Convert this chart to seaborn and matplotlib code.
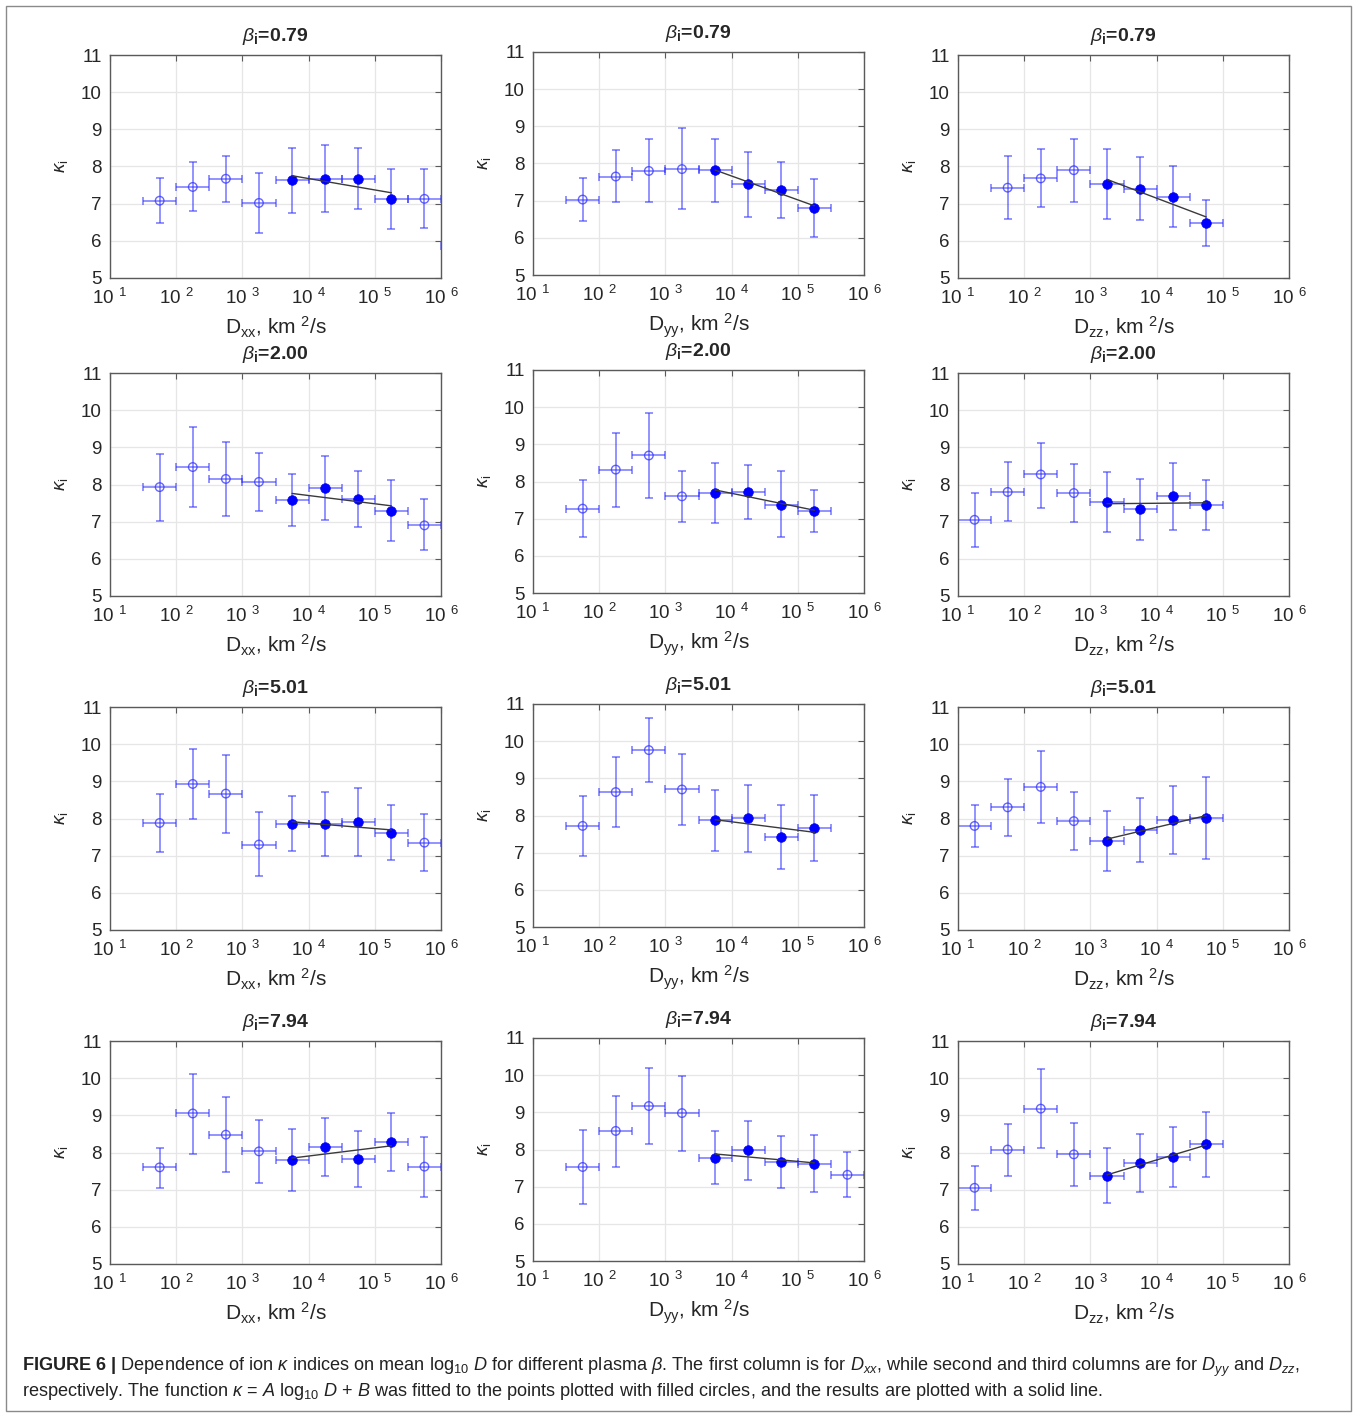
import numpy as np
import matplotlib
matplotlib.use('Agg')
import matplotlib.pyplot as plt
from matplotlib.patches import Rectangle
import seaborn as sns

sns.set_style('white')
plt.rcParams['font.family'] = ['Liberation Sans', 'DejaVu Sans']
plt.rcParams['mathtext.fontset'] = 'custom'
plt.rcParams['mathtext.rm'] = 'Liberation Sans'
plt.rcParams['mathtext.it'] = 'Liberation Sans:italic'
plt.rcParams['mathtext.bf'] = 'Liberation Sans:bold'

# ============================================================
# Data: bin centre (log10 D), kappa, lower/upper error
# ============================================================
BETAS = ['0.79', '2.00', '5.01', '7.94']
COMPONENTS = ['xx', 'yy', 'zz']
HALF_BIN = 0.25  # half width of a bin, decades
# fits use the filled points inside this range of log10 D
FIT_RANGE = {'xx': (3.75, 5.25), 'yy': (3.75, 5.25), 'zz': (3.25, 4.75)}

# --- D_xx ---
XX_079_LOGD = [1.75, 2.25, 2.75, 3.25, 3.75, 4.25, 4.75, 5.25, 5.75, 6.25]
XX_079_K = [7.08, 7.45, 7.67, 7.02, 7.63, 7.67, 7.67, 7.12, 7.13, 5.85]
XX_079_LO = [6.48, 6.80, 7.05, 6.22, 6.75, 6.77, 6.85, 6.33, 6.35, 5.20]
XX_079_HI = [7.68, 8.12, 8.28, 7.82, 8.50, 8.58, 8.50, 7.92, 7.92, 6.50]

XX_200_LOGD = [1.75, 2.25, 2.75, 3.25, 3.75, 4.25, 4.75, 5.25, 5.75]
XX_200_K = [7.93, 8.47, 8.15, 8.07, 7.57, 7.90, 7.60, 7.30, 6.90]
XX_200_LO = [7.03, 7.40, 7.14, 7.28, 6.87, 7.05, 6.85, 6.48, 6.23]
XX_200_HI = [8.82, 9.55, 9.15, 8.85, 8.28, 8.77, 8.37, 8.13, 7.60]

XX_501_LOGD = [1.75, 2.25, 2.75, 3.25, 3.75, 4.25, 4.75, 5.25, 5.75]
XX_501_K = [7.88, 8.93, 8.67, 7.30, 7.86, 7.85, 7.90, 7.60, 7.35]
XX_501_LO = [7.10, 8.00, 7.62, 6.45, 7.12, 7.00, 7.00, 6.88, 6.58]
XX_501_HI = [8.67, 9.87, 9.72, 8.17, 8.60, 8.70, 8.82, 8.35, 8.12]

XX_794_LOGD = [1.75, 2.25, 2.75, 3.25, 3.75, 4.25, 4.75, 5.25, 5.75]
XX_794_K = [7.60, 9.05, 8.48, 8.03, 7.80, 8.16, 7.82, 8.28, 7.62]
XX_794_LO = [7.05, 7.97, 7.48, 7.17, 6.97, 7.38, 7.08, 7.50, 6.80]
XX_794_HI = [8.13, 10.12, 9.48, 8.88, 8.63, 8.93, 8.58, 9.07, 8.43]

# --- D_yy ---
YY_079_LOGD = [1.75, 2.25, 2.75, 3.25, 3.75, 4.25, 4.75, 5.25]
YY_079_K = [7.03, 7.65, 7.80, 7.85, 7.82, 7.45, 7.30, 6.80]
YY_079_LO = [6.45, 6.97, 6.97, 6.78, 6.97, 6.57, 6.53, 6.03]
YY_079_HI = [7.62, 8.35, 8.65, 8.95, 8.67, 8.32, 8.05, 7.57]

YY_200_LOGD = [1.75, 2.25, 2.75, 3.25, 3.75, 4.25, 4.75, 5.25]
YY_200_K = [7.27, 8.32, 8.70, 7.60, 7.69, 7.73, 7.38, 7.20]
YY_200_LO = [6.50, 7.32, 7.55, 6.90, 6.88, 7.00, 6.50, 6.63]
YY_200_HI = [8.05, 9.30, 9.85, 8.28, 8.50, 8.45, 8.27, 7.78]

YY_501_LOGD = [1.75, 2.25, 2.75, 3.25, 3.75, 4.25, 4.75, 5.25]
YY_501_K = [7.72, 8.63, 9.76, 8.70, 7.87, 7.92, 7.42, 7.66]
YY_501_LO = [6.92, 7.70, 8.90, 7.75, 7.05, 7.02, 6.57, 6.77]
YY_501_HI = [8.53, 9.57, 10.63, 9.65, 8.68, 8.82, 8.27, 8.55]

YY_794_LOGD = [1.75, 2.25, 2.75, 3.25, 3.75, 4.25, 4.75, 5.25, 5.75]
YY_794_K = [7.53, 8.50, 9.17, 8.98, 7.78, 7.98, 7.66, 7.62, 7.32]
YY_794_LO = [6.53, 7.53, 8.15, 7.97, 7.07, 7.17, 6.97, 6.85, 6.73]
YY_794_HI = [8.53, 9.45, 10.20, 9.98, 8.50, 8.78, 8.36, 8.38, 7.92]

# --- D_zz ---
ZZ_079_LOGD = [1.75, 2.25, 2.75, 3.25, 3.75, 4.25, 4.75]
ZZ_079_K = [7.43, 7.68, 7.90, 7.53, 7.40, 7.18, 6.48]
ZZ_079_LO = [6.60, 6.90, 7.05, 6.58, 6.57, 6.38, 5.87]
ZZ_079_HI = [8.28, 8.47, 8.75, 8.47, 8.25, 8.00, 7.10]

ZZ_200_LOGD = [1.25, 1.75, 2.25, 2.75, 3.25, 3.75, 4.25, 4.75]
ZZ_200_K = [7.05, 7.80, 8.27, 7.77, 7.53, 7.33, 7.68, 7.44]
ZZ_200_LO = [6.32, 7.02, 7.38, 6.98, 6.73, 6.52, 6.78, 6.77]
ZZ_200_HI = [7.77, 8.60, 9.13, 8.56, 8.33, 8.15, 8.58, 8.12]

ZZ_501_LOGD = [1.25, 1.75, 2.25, 2.75, 3.25, 3.75, 4.25, 4.75]
ZZ_501_K = [7.80, 8.30, 8.85, 7.93, 7.40, 7.68, 7.96, 8.01]
ZZ_501_LO = [7.23, 7.53, 7.88, 7.15, 6.58, 6.82, 7.05, 6.90]
ZZ_501_HI = [8.37, 9.05, 9.82, 8.72, 8.20, 8.55, 8.87, 9.12]

ZZ_794_LOGD = [1.25, 1.75, 2.25, 2.75, 3.25, 3.75, 4.25, 4.75]
ZZ_794_K = [7.05, 8.08, 9.18, 7.95, 7.38, 7.72, 7.88, 8.22]
ZZ_794_LO = [6.45, 7.38, 8.12, 7.10, 6.65, 6.95, 7.08, 7.35]
ZZ_794_HI = [7.65, 8.78, 10.25, 8.80, 8.12, 8.50, 8.68, 9.08]

PANELS = {
    ('xx', '0.79'): (XX_079_LOGD, XX_079_K, XX_079_LO, XX_079_HI),
    ('xx', '2.00'): (XX_200_LOGD, XX_200_K, XX_200_LO, XX_200_HI),
    ('xx', '5.01'): (XX_501_LOGD, XX_501_K, XX_501_LO, XX_501_HI),
    ('xx', '7.94'): (XX_794_LOGD, XX_794_K, XX_794_LO, XX_794_HI),
    ('yy', '0.79'): (YY_079_LOGD, YY_079_K, YY_079_LO, YY_079_HI),
    ('yy', '2.00'): (YY_200_LOGD, YY_200_K, YY_200_LO, YY_200_HI),
    ('yy', '5.01'): (YY_501_LOGD, YY_501_K, YY_501_LO, YY_501_HI),
    ('yy', '7.94'): (YY_794_LOGD, YY_794_K, YY_794_LO, YY_794_HI),
    ('zz', '0.79'): (ZZ_079_LOGD, ZZ_079_K, ZZ_079_LO, ZZ_079_HI),
    ('zz', '2.00'): (ZZ_200_LOGD, ZZ_200_K, ZZ_200_LO, ZZ_200_HI),
    ('zz', '5.01'): (ZZ_501_LOGD, ZZ_501_K, ZZ_501_LO, ZZ_501_HI),
    ('zz', '7.94'): (ZZ_794_LOGD, ZZ_794_K, ZZ_794_LO, ZZ_794_HI),
}

# ============================================================
# Layout (pixels)
# ============================================================
FIG_W, FIG_H = 1357, 1415
COL_LEFT = [110, 533, 958]
COL_SHIFT = [0, -3, 0]
ROW_TOP = [55, 373, 707, 1041]
AX_W, AX_H = 331, 223

BLUE = (0, 0, 1)
ERR_COLOR = (0.2, 0.2, 1.0, 0.62)
GRID = '#e6e6e6'
SPINE = '#5a5a5a'
TXT = '#262626'

fig = plt.figure(figsize=(FIG_W / 100, FIG_H / 100), dpi=100)

for r, beta in enumerate(BETAS):
    for c, comp in enumerate(COMPONENTS):
        left = COL_LEFT[c]
        top = ROW_TOP[r] + COL_SHIFT[c]
        ax = fig.add_axes([left / FIG_W, 1 - (top + AX_H) / FIG_H,
                           AX_W / FIG_W, AX_H / FIG_H])
        ax.set_xscale('log')

        logd, k, lo, hi = (np.asarray(a, dtype=float) for a in PANELS[(comp, beta)])
        d = 10 ** logd
        xerr = [d - 10 ** (logd - HALF_BIN), 10 ** (logd + HALF_BIN) - d]
        yerr = [k - lo, hi - k]
        ax.errorbar(d, k, xerr=xerr, yerr=yerr, fmt='none', ecolor=ERR_COLOR,
                    elinewidth=1.2, capsize=3, capthick=1.2, zorder=2)

        f0, f1 = FIT_RANGE[comp]
        filled = (logd >= f0 - 1e-9) & (logd <= f1 + 1e-9)

        sns.scatterplot(x=d[~filled], y=k[~filled], ax=ax, marker='o', s=38,
                        facecolor='none', edgecolor=(0.2, 0.2, 1.0, 0.75),
                        linewidth=1.0, zorder=3)
        sns.scatterplot(x=d[filled], y=k[filled], ax=ax, marker='o', s=48,
                        color=BLUE, edgecolor=BLUE, linewidth=0.5, zorder=4)

        # kappa = A log10 D + B on the filled points
        A, B = np.polyfit(logd[filled], k[filled], 1)
        xf = np.array([logd[filled].min(), logd[filled].max()])
        sns.lineplot(x=10 ** xf, y=A * xf + B, ax=ax, color='#3a3a3a',
                     linewidth=1.0, zorder=5)

        ax.set_xlim(1e1, 1e6)
        ax.set_ylim(5, 11)
        ax.set_xticks([10 ** e for e in range(1, 7)])
        ax.set_xticklabels([f'10 $^{{{e}}}$' for e in range(1, 7)])
        ax.minorticks_off()
        ax.set_yticks(range(5, 12))
        ax.grid(True, color=GRID, linewidth=0.9)
        ax.set_axisbelow(True)
        ax.tick_params(direction='in', length=4, width=0.8, colors=SPINE,
                       labelcolor=TXT, labelsize=13.5, top=True, right=True)
        ax.tick_params(axis='x', pad=7)
        ax.tick_params(axis='y', pad=6)
        for sp in ax.spines.values():
            sp.set_color(SPINE)
            sp.set_linewidth(1.0)

        ax.set_title(rf'$\beta_{{\mathbf{{i}}}}$={beta}', fontsize=14,
                     fontweight='bold', pad=10)
        ax.set_xlabel(rf'D$_{{\rm {comp}}}$, km $^{{2}}$/s', fontsize=15,
                      color=TXT, labelpad=5)
        ax.set_ylabel(r'$\kappa_{\rm i}$', fontsize=13.5, color=TXT,
                      labelpad=8)

# caption
fig.text(22 / FIG_W, 1 - 1367 / FIG_H,
         r'$\mathbf{FIGURE\ 6\ |}$ Dependence of ion $\kappa$ indices on mean '
         r'log$_{10}$ $D$ for different plasma $\beta$. The first column is for '
         r'$D_{xx}$, while second and third columns are for $D_{yy}$ and $D_{zz}$,',
         fontsize=13.1, va='center', ha='left', color='#222222')
fig.text(22 / FIG_W, 1 - 1392 / FIG_H,
         r'respectively. The function $\kappa$ = $A$ log$_{10}$ $D$ + $B$ was '
         r'fitted to the points plotted with filled circles, and the results are '
         r'plotted with a solid line.',
         fontsize=13.1, va='center', ha='left', color='#222222')

# outer frame
fig.patches.append(Rectangle((6 / FIG_W, 4 / FIG_H), 1345 / FIG_W, 1405 / FIG_H,
                             transform=fig.transFigure, fill=False,
                             edgecolor='#8a8a8a', linewidth=1.0))

plt.savefig('out.png', dpi=100)
plt.close()
